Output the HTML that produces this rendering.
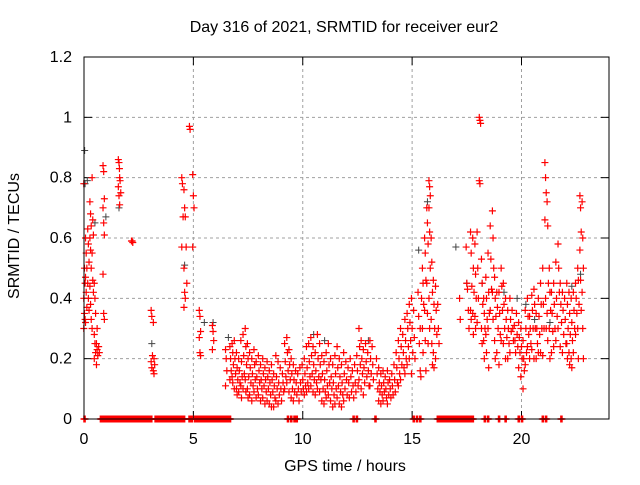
<!DOCTYPE html>
<html><head><meta charset="utf-8"><style>
body{margin:0;background:#fff;}
svg text{font-family:"Liberation Sans",sans-serif;font-size:16px;fill:#000;}
</style></head><body>
<svg id="chart" width="640" height="480" xmlns="http://www.w3.org/2000/svg">
<rect width="640" height="480" fill="#fff"/>
<g id="grid"></g>
<g id="ticks"></g>
<g id="blackSeries"></g>
<g id="redSeries"></g>
<rect x="84" y="57" width="525" height="362" fill="none" stroke="#000" stroke-width="1"/>
<text x="344" y="32" text-anchor="middle">Day 316 of 2021, SRMTID for receiver eur2</text>
<text x="345" y="471" text-anchor="middle">GPS time / hours</text>
<text transform="translate(19,236) rotate(-90)" text-anchor="middle">SRMTID / TECUs</text>
</svg>
<script>
const xTicks = [0,5,10,15,20];
const yTicks = [0,0.2,0.4,0.6,0.8,1,1.2];
const yTickLabels = ["0","0.2","0.4","0.6","0.8","1","1.2"];
// red series: group times (hours) with values at each time
const redTimes = [0.02,0.1,0.2,0.3,0.4,0.5,0.6,0.7,0.9,1.6,1.65,2.2,3.1,3.2,4.5,4.6,4.7,4.85,5.0,5.3,5.9,6.5,
6.7,6.8,6.9,7.0,7.1,7.2,7.3,7.4,7.5,7.6,7.7,7.8,7.9,8.0,8.1,8.2,8.3,8.4,8.5,8.6,8.7,8.8,8.9,9.0,9.1,9.2,9.3,9.4,9.5,9.6,9.7,9.8,9.9,
10.0,10.1,10.2,10.3,10.4,10.5,10.6,10.7,10.8,10.9,11.0,11.1,11.2,11.3,11.4,11.5,11.6,11.7,11.8,11.9,12.0,12.1,12.2,12.3,12.4,12.5,12.6,12.7,12.8,12.9,13.0,13.1,13.2,
13.4,13.5,13.6,13.7,13.8,13.9,14.0,14.1,14.2,14.3,14.4,14.5,14.6,14.7,14.8,14.9,15.0,15.1,
15.3,15.4,15.5,15.6,15.7,15.8,15.9,16.0,16.1,16.2,
17.2,17.5,17.6,17.7,17.8,17.9,18.0,18.1,18.2,18.3,18.4,18.5,18.6,18.7,18.8,18.9,19.0,19.1,19.2,19.3,19.4,19.5,19.6,19.7,19.8,19.9,
20.0,20.1,20.2,20.3,20.4,20.5,20.6,20.7,20.8,20.9,21.0,21.1,21.2,21.3,21.4,21.5,21.6,21.7,21.8,21.9,22.0,22.1,22.2,22.3,22.4,22.5,22.6,22.7,22.8];
const redValues = [[0.78,0.5,0.45,0.4,0.35,0.33,0.3],[0.6,0.55,0.5,0.47,0.42,0.37,0.32],[0.63,0.58,0.52,0.45,0.4,0.36],[0.72,0.68,0.64,0.6,0.56,0.5,0.44,0.38,0.33],[0.8,0.66,0.61,0.55,0.46,0.42,0.3],[0.45,0.4,0.35,0.28,0.25,0.22,0.2],[0.25,0.23,0.21,0.18,0.3],[0.24,0.22],[0.84,0.82,0.73,0.7,0.65,0.61,0.48,0.35,0.33],[0.86,0.85,0.8,0.77,0.74,0.71],[0.83,0.79,0.75],[0.59,0.59,0.585],[0.36,0.34,0.21,0.19,0.17],[0.32,0.2,0.18,0.16,0.15],[0.8,0.78,0.67,0.57],[0.76,0.7,0.67,0.5,0.42,0.4,0.37],[0.57,0.45],[0.97,0.96],[0.81,0.74,0.7,0.57],[0.36,0.34,0.29,0.27,0.22,0.21],[0.31,0.29,0.26,0.23],[0.23,0.2,0.16,0.11],
[0.24,0.2,0.16,0.13],[0.25,0.22,0.18,0.14,0.12],[0.26,0.2,0.15,0.1],[0.22,0.17,0.13,0.1,0.08],[0.2,0.16,0.12,0.09],[0.26,0.19,0.14,0.11,0.07],[0.28,0.21,0.15,0.1],[0.3,0.24,0.18,0.13,0.09],[0.25,0.2,0.14,0.1,0.07],[0.22,0.17,0.12,0.08],[0.2,0.15,0.11,0.06],[0.23,0.18,0.13,0.09],[0.19,0.14,0.1,0.07],[0.21,0.16,0.12,0.08],[0.18,0.13,0.1,0.06],[0.2,0.15,0.11,0.07],[0.17,0.13,0.09,0.05],[0.19,0.14,0.1,0.06],[0.16,0.12,0.08,0.05],[0.18,0.13,0.09,0.04],[0.15,0.11,0.07,0.04],[0.21,0.14,0.1,0.06],[0.19,0.12,0.08,0.05],[0.17,0.1,0.06],[0.15,0.12,0.09],[0.25,0.19,0.14,0.1],[0.27,0.22,0.16,0.12],[0.23,0.18,0.13,0.09],[0.2,0.15,0.1,0.07],[0.18,0.13,0.09,0.06],[0.16,0.12,0.08],[0.15,0.1,0.06],[0.17,0.12,0.09],[0.18,0.13,0.1],
[0.2,0.15,0.11,0.08],[0.24,0.17,0.12,0.09],[0.25,0.19,0.14,0.1],[0.27,0.21,0.15,0.11],[0.24,0.18,0.13,0.09],[0.22,0.16,0.12,0.08],[0.28,0.2,0.14,0.1],[0.25,0.18,0.13,0.09],[0.21,0.15,0.1,0.06],[0.19,0.13,0.09,0.05],[0.22,0.16,0.11,0.07],[0.25,0.18,0.12,0.08],[0.2,0.14,0.1,0.06],[0.18,0.12,0.08,0.04],[0.21,0.15,0.1,0.05],[0.24,0.17,0.11,0.07],[0.2,0.14,0.09,0.05],[0.18,0.12,0.08,0.04],[0.22,0.15,0.1,0.06],[0.19,0.13,0.08],[0.17,0.12,0.07],[0.2,0.14,0.09],[0.16,0.11,0.07],[0.18,0.12,0.09],[0.21,0.16,0.11],[0.3,0.24,0.18,0.13],[0.26,0.2,0.15,0.1],[0.23,0.17,0.12,0.08],[0.25,0.19,0.14],[0.22,0.16,0.11],[0.26,0.2,0.15,0.11],[0.24,0.18,0.13],[0.2,0.15,0.1],
[0.17,0.12,0.09,0.06],[0.15,0.11,0.08,0.05],[0.16,0.12,0.09,0.06],[0.14,0.1,0.07],[0.16,0.12,0.08,0.05],[0.13,0.1,0.07],[0.15,0.11,0.08],[0.18,0.13,0.09],[0.22,0.17,0.12],[0.26,0.2,0.15,0.11],[0.3,0.24,0.18,0.13],[0.28,0.22,0.17],[0.33,0.26,0.2,0.15],[0.35,0.3,0.24,0.18],[0.38,0.32,0.26,0.2],[0.4,0.3,0.22,0.15],[0.36,0.27,0.2],[0.42,0.34,0.25],
[0.16,0.14,0.4,0.3],[0.5,0.45,0.38,0.3,0.22],[0.6,0.55,0.46,0.36,0.26,0.16],[0.7,0.65,0.58,0.45,0.35,0.25],[0.79,0.77,0.74,0.7,0.62,0.5,0.4,0.3],[0.6,0.52,0.42,0.33,0.25,0.18],[0.46,0.38,0.3,0.22,0.17],[0.44,0.36,0.28,0.2],[0.38,0.3,0.25],[0.4,0.33],
[0.57,0.45,0.43],[0.36,0.3],[0.62,0.55,0.44,0.36,0.33],[0.6,0.5,0.42,0.35,0.28],[0.58,0.48,0.4,0.34,0.3],[0.62,0.5,0.4,0.32],[1.0,0.99,0.98,0.79,0.78],[0.53,0.45,0.38,0.3,0.25],[0.4,0.35,0.3,0.26,0.2],[0.47,0.4,0.33,0.28,0.22],[0.55,0.42,0.35,0.3,0.17],[0.64,0.53,0.43,0.36],[0.69,0.6,0.5,0.42,0.33],[0.47,0.4,0.34,0.26,0.2],[0.42,0.37,0.3,0.22],[0.42,0.35,0.28,0.18],[0.5,0.44,0.36,0.26],[0.45,0.38,0.3,0.25],[0.4,0.33,0.27,0.2],[0.36,0.3,0.25,0.2],[0.4,0.33,0.29,0.22],[0.36,0.3,0.26],[0.31,0.26,0.22],[0.35,0.28,0.24],[0.32,0.27,0.22,0.17],[0.3,0.24,0.2,0.14],
[0.26,0.2,0.16,0.1],[0.36,0.3,0.22,0.18],[0.4,0.34,0.28,0.24],[0.34,0.3,0.25,0.2],[0.41,0.36,0.3,0.23],[0.43,0.38,0.3,0.2],[0.35,0.3,0.25,0.2],[0.4,0.34,0.28,0.22],[0.45,0.38,0.3,0.22],[0.5,0.38,0.3,0.21],[0.85,0.8,0.75,0.66,0.4,0.3],[0.72,0.64,0.45,0.35,0.26],[0.5,0.42,0.36,0.3,0.2],[0.42,0.35,0.29,0.22],[0.45,0.38,0.3,0.24],[0.52,0.4,0.34,0.26],[0.58,0.5,0.42,0.3],[0.45,0.38,0.32,0.24],[0.42,0.36,0.28,0.22],[0.4,0.33,0.25],[0.45,0.38,0.3,0.25,0.2],[0.42,0.35,0.28,0.22,0.18],[0.4,0.32,0.26,0.2,0.17],[0.42,0.36,0.3,0.22],[0.45,0.4,0.35,0.28],[0.5,0.46,0.38,0.3,0.2],[0.74,0.7,0.62,0.56,0.46,0.36],[0.72,0.6,0.5,0.42,0.3,0.2],[0.55,0.46,0.38,0.28,0.2]];
// near-zero values (hours where value = 0)
const zeroTimes = [0.0,0.75,0.85,0.95,1.05,1.15,1.25,1.35,1.45,1.55,1.65,1.75,1.85,1.95,2.05,2.15,2.25,2.35,2.45,2.55,2.65,2.75,2.85,2.95,3.05,3.25,3.35,3.45,3.55,3.65,3.75,3.85,3.95,4.05,4.15,4.25,4.35,4.45,4.55,4.8,4.9,5.05,5.15,5.25,5.35,5.45,5.55,5.65,5.75,5.85,5.95,6.05,6.15,6.25,6.35,6.45,6.55,6.65,9.3,9.45,9.6,9.7,12.3,12.45,13.3,15.05,15.2,15.35,16.15,16.25,16.35,16.45,16.55,16.65,16.75,16.85,16.95,17.05,17.15,17.25,17.35,17.45,17.55,17.65,17.75,18.3,18.45,18.95,19.25,19.85,20.0,20.95,21.1,21.8];
// black series (partially hidden under red)
const blackTimes = [0.03,0.05,0.15,0.5,1.0,1.6,3.1,4.6,5.5,5.9,6.6,10.5,11.0,13.0,15.3,15.7,17.0,17.5,18.2,19.2,19.8,20.2,20.6,21.3,22.3,22.7];
const blackValues = [0.89,0.78,0.79,0.65,0.67,0.7,0.25,0.51,0.32,0.32,0.27,0.28,0.26,0.26,0.56,0.72,0.57,0.45,0.45,0.42,0.4,0.38,0.33,0.32,0.44,0.48];

const L=84,R=609,T=57,B=419,XMAX=24,YMAX=1.2;
const xs=t=>L+t/XMAX*(R-L);
const ys=v=>B-v/YMAX*(B-T);
const NS='http://www.w3.org/2000/svg';
function mk(tag,attrs,parent){const e=document.createElementNS(NS,tag);for(const k in attrs)e.setAttribute(k,attrs[k]);parent.appendChild(e);return e;}
const grid=document.getElementById('grid'),ticks=document.getElementById('ticks');
yTicks.forEach((v,i)=>{
  const y=ys(v);
  if(v>0&&v<YMAX){const g=mk('line',{x1:L,x2:R,y1:y,y2:y,stroke:'#a0a0a0','stroke-dasharray':'3,3'},grid);
  
  }
  mk('line',{x1:L,x2:L+8,y1:y,y2:y,stroke:'#000'},ticks);
  mk('line',{x1:R-8,x2:R,y1:y,y2:y,stroke:'#000'},ticks);
  const t=mk('text',{x:L-12,y:y+5,'text-anchor':'end'},ticks);t.textContent=yTickLabels[i];
  
  
});
xTicks.forEach(v=>{
  const x=xs(v);
  if(v>0){const g=mk('line',{x1:x,x2:x,y1:T,y2:B,stroke:'#a0a0a0','stroke-dasharray':'3,3'},grid);
  
  }
  mk('line',{x1:x,x2:x,y1:B-8,y2:B,stroke:'#000'},ticks);
  mk('line',{x1:x,x2:x,y1:T,y2:T+8,stroke:'#000'},ticks);
  const t=mk('text',{x:x,y:B+25,'text-anchor':'middle'},ticks);t.textContent=String(v);
  
  
});
function plus(g,t,v,color,w){
  const x=xs(t),y=ys(v);
  const p=mk('path',{d:`M${x-3.5},${y}H${x+3.5}M${x},${y-3.5}V${y+3.5}`,stroke:color,'stroke-width':w,fill:'none'},g);
  
  
}
const bg=document.getElementById('blackSeries'),rg=document.getElementById('redSeries');
blackTimes.forEach((t,i)=>plus(bg,t,blackValues[i],'#444',1));
redTimes.forEach((t,i)=>redValues[i].forEach((v,j)=>plus(rg,t+((j%3)-1)*0.03,v,'#f00',1.2)));
zeroTimes.forEach(t=>{plus(rg,t,0,'#f00',1.5);plus(rg,t+0.05,0,'#f00',1.5);});
</script>
</body></html>
